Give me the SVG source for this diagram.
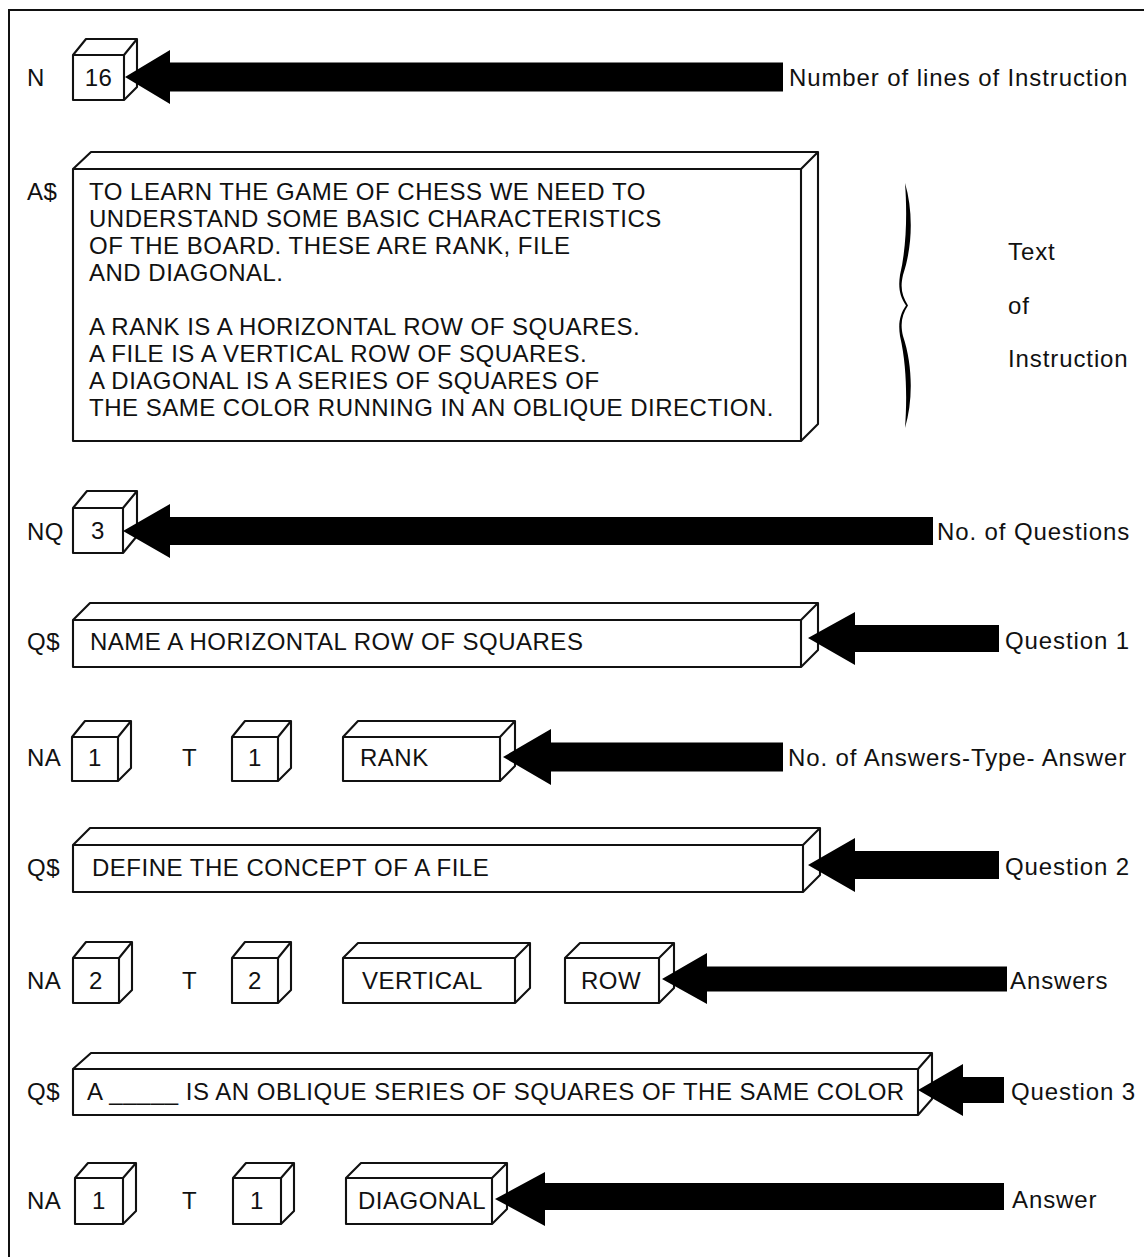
<svg xmlns="http://www.w3.org/2000/svg" width="1144" height="1257" viewBox="0 0 1144 1257">
  <style>
    .frame { fill: none; stroke: #111; stroke-width: 2; }
    .box { fill: #fff; stroke: #111; stroke-width: 2.1; stroke-linejoin: round; }
    .edge { fill: none; stroke: #111; stroke-width: 2.1; stroke-linejoin: round; }
    .arrow { fill: #000; }
    .t { font-family: "Liberation Sans", Arial, sans-serif; font-size: 24px; letter-spacing: 0.5px; fill: #111; }
    .lbl { font-family: "Liberation Sans", Arial, sans-serif; font-size: 24px; letter-spacing: 0.9px; fill: #111; }
    .mid { text-anchor: middle; }
  </style>
  <rect width="1144" height="1257" fill="#fff"/>

  <!-- page frame: left and top rules only -->
  <path class="frame" d="M9,1257 V10 H1144"/>

  <!-- row labels on the left -->
  <g id="row-labels" class="t">
    <text x="27" y="86">N</text>
    <text x="27" y="200">A$</text>
    <text x="27" y="540">NQ</text>
    <text x="27" y="650">Q$</text>
    <text x="27" y="766">NA</text>
    <text x="182" y="766">T</text>
    <text x="27" y="876">Q$</text>
    <text x="27" y="989">NA</text>
    <text x="182" y="989">T</text>
    <text x="27" y="1100">Q$</text>
    <text x="27" y="1209">NA</text>
    <text x="182" y="1209">T</text>
  </g>

  <!-- N cell -->
  <g id="n-cell">
    <rect class="box" x="73" y="55" width="51" height="45"/>
    <path class="edge" d="M73,55 L86,39 H137 V87 L124,100 M124,55 L137,39"/>
    <text class="t mid" x="98.5" y="86">16</text>
  </g>

  <!-- A$ text block -->
  <g id="a-text">
    <rect class="box" x="73" y="169" width="728" height="272"/>
    <path class="edge" d="M73,169 L91,152 H818 V424 L801,441 M801,169 L818,152"/>
    <text class="t" x="89" y="200">TO LEARN THE GAME OF CHESS WE NEED TO</text>
    <text class="t" x="89" y="227">UNDERSTAND SOME BASIC CHARACTERISTICS</text>
    <text class="t" x="89" y="254">OF THE BOARD. THESE ARE RANK, FILE</text>
    <text class="t" x="89" y="281">AND DIAGONAL.</text>
    <text class="t" x="89" y="335">A RANK IS A HORIZONTAL ROW OF SQUARES.</text>
    <text class="t" x="89" y="362">A FILE IS A VERTICAL ROW OF SQUARES.</text>
    <text class="t" x="89" y="389">A DIAGONAL IS A SERIES OF SQUARES OF</text>
    <text class="t" x="89" y="416">THE SAME COLOR RUNNING IN AN OBLIQUE DIRECTION.</text>
  </g>

  <!-- brace grouping the instruction text -->
  <g id="brace">
    <path class="arrow" d="M905,183 C913,210 913,245 903,275 C900,288 902,296 908,305.5 C902,315 900,323 903,336 C913,366 913,401 905,428 C907,401 907,366 900,336 C898,323 900,314 906,305.5 C900,297 898,288 900,275 C907,245 907,210 905,183 Z"/>
    <text class="lbl" x="1008" y="260">Text</text>
    <text class="lbl" x="1008" y="314">of</text>
    <text class="lbl" x="1008" y="367">Instruction</text>
  </g>

  <!-- NQ cell -->
  <g id="nq-cell">
    <rect class="box" x="73" y="508" width="50" height="45"/>
    <path class="edge" d="M73,508 L87,491 H137 V536 L123,553 M123,508 L137,491"/>
    <text class="t mid" x="98" y="539">3</text>
  </g>

  <!-- question 1 -->
  <g id="q1">
    <rect class="box" x="73" y="620" width="728" height="47"/>
    <path class="edge" d="M73,620 L90,603 H818 V650 L801,667 M801,620 L818,603"/>
    <text class="t" x="90" y="650">NAME A HORIZONTAL ROW OF SQUARES</text>
  </g>

  <!-- answers to question 1 -->
  <g id="a1-count">
    <rect class="box" x="72" y="737" width="46" height="44"/>
    <path class="edge" d="M72,737 L85,721 H131 V768 L118,781 M118,737 L131,721"/>
    <text class="t mid" x="95" y="766">1</text>
  </g>
  <g id="a1-type">
    <rect class="box" x="232" y="737" width="46" height="44"/>
    <path class="edge" d="M232,737 L245,721 H291 V768 L278,781 M278,737 L291,721"/>
    <text class="t mid" x="255" y="766">1</text>
  </g>
  <g id="a1-rank">
    <rect class="box" x="343" y="737" width="157" height="44"/>
    <path class="edge" d="M343,737 L358,721 H515 V766 L500,781 M500,737 L515,721"/>
    <text class="t" x="360" y="766">RANK</text>
  </g>

  <!-- question 2 -->
  <g id="q2">
    <rect class="box" x="73" y="845" width="730" height="47"/>
    <path class="edge" d="M73,845 L90,828 H820 V875 L803,892 M803,845 L820,828"/>
    <text class="t" x="92" y="876">DEFINE THE CONCEPT OF A FILE</text>
  </g>

  <!-- answers to question 2 -->
  <g id="a2-count">
    <rect class="box" x="73" y="958" width="46" height="45"/>
    <path class="edge" d="M73,958 L86,942 H132 V990 L119,1003 M119,958 L132,942"/>
    <text class="t mid" x="96" y="989">2</text>
  </g>
  <g id="a2-type">
    <rect class="box" x="232" y="958" width="46" height="45"/>
    <path class="edge" d="M232,958 L245,942 H291 V990 L278,1003 M278,958 L291,942"/>
    <text class="t mid" x="255" y="989">2</text>
  </g>
  <g id="a2-vertical">
    <rect class="box" x="343" y="958" width="172" height="45"/>
    <path class="edge" d="M343,958 L358,943 H530 V988 L515,1003 M515,958 L530,943"/>
    <text class="t" x="362" y="989">VERTICAL</text>
  </g>
  <g id="a2-row">
    <rect class="box" x="565" y="958" width="94" height="45"/>
    <path class="edge" d="M565,958 L580,943 H674 V988 L659,1003 M659,958 L674,943"/>
    <text class="t" x="581" y="989">ROW</text>
  </g>

  <!-- question 3 -->
  <g id="q3">
    <rect class="box" x="73" y="1069" width="845" height="46"/>
    <path class="edge" d="M73,1069 L91,1053 H932 V1099 L918,1115 M918,1069 L932,1053"/>
    <text class="t" x="87" y="1100">A _____ IS AN OBLIQUE SERIES OF SQUARES OF THE SAME COLOR</text>
  </g>

  <!-- answers to question 3 -->
  <g id="a3-count">
    <rect class="box" x="75" y="1178" width="48" height="46"/>
    <path class="edge" d="M75,1178 L88,1163 H136 V1211 L123,1224 M123,1178 L136,1163"/>
    <text class="t mid" x="99" y="1209">1</text>
  </g>
  <g id="a3-type">
    <rect class="box" x="233" y="1178" width="48" height="46"/>
    <path class="edge" d="M233,1178 L246,1163 H294 V1211 L281,1224 M281,1178 L294,1163"/>
    <text class="t mid" x="257" y="1209">1</text>
  </g>
  <g id="a3-diagonal">
    <rect class="box" x="346" y="1178" width="146" height="46"/>
    <path class="edge" d="M346,1178 L361,1163 H507 V1209 L492,1224 M492,1178 L507,1163"/>
    <text class="t" x="358" y="1209">DIAGONAL</text>
  </g>

  <!-- pointer arrows -->
  <g id="connectors" class="arrow">
    <polygon points="125,77 170,50 170,62.5 783,62.5 783,91.5 170,91.5 170,104"/>
    <polygon points="123,531 170,504 170,517 933,517 933,545 170,545 170,558"/>
    <polygon points="808,638 855,612 855,625 999,625 999,652 855,652 855,665"/>
    <polygon points="503,757 551,729 551,742.5 783,742.5 783,771.5 551,771.5 551,785"/>
    <polygon points="808,865 855,838 855,851 999,851 999,879 855,879 855,892"/>
    <polygon points="662,979 707,953 707,966.5 1007,966.5 1007,991.5 707,991.5 707,1004"/>
    <polygon points="918,1090 963,1064 963,1077 1004,1077 1004,1103 963,1103 963,1116"/>
    <polygon points="495,1199 545,1172 545,1183 1004,1183 1004,1210 545,1210 545,1226"/>
  </g>

  <!-- right-hand captions -->
  <g id="captions" class="lbl">
    <text x="789" y="86">Number of lines of Instruction</text>
    <text x="937" y="540">No. of Questions</text>
    <text x="1005" y="649">Question 1</text>
    <text x="788" y="766">No. of Answers-Type- Answer</text>
    <text x="1005" y="875">Question 2</text>
    <text x="1010" y="989">Answers</text>
    <text x="1011" y="1100">Question 3</text>
    <text x="1012" y="1208">Answer</text>
  </g>
</svg>
